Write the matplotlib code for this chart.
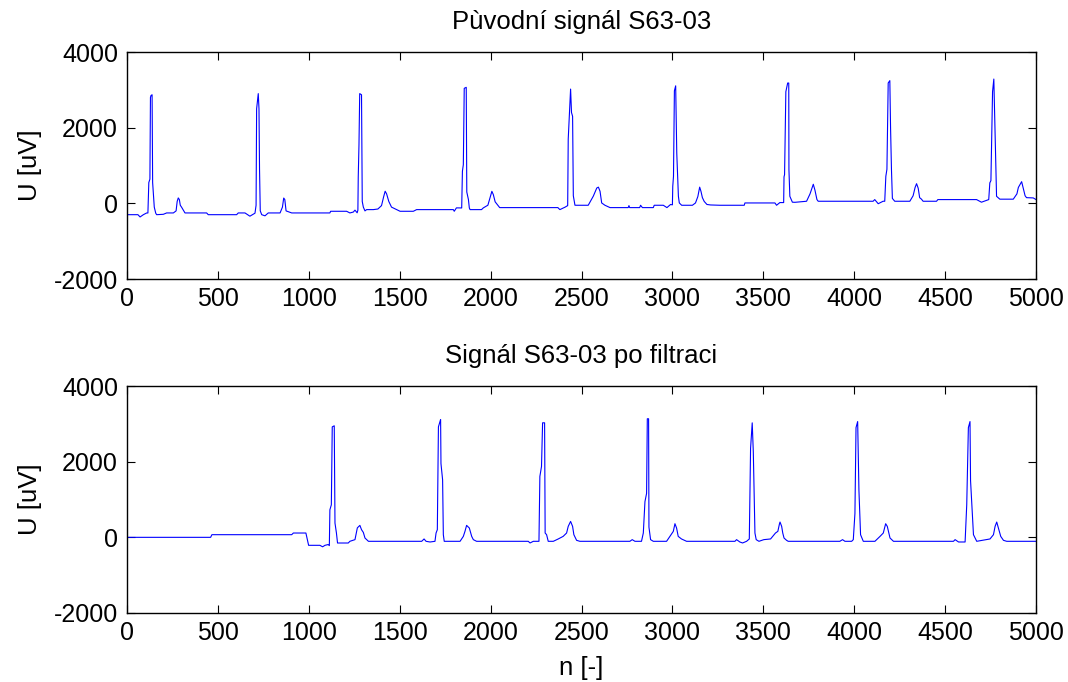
import matplotlib
matplotlib.use("Agg")
import matplotlib.pyplot as plt
import numpy as np

plt.rcParams['font.family'] = ['Liberation Sans', 'DejaVu Sans']
plt.rcParams['axes.unicode_minus'] = False

# ---- data ----
titles = ["Pùvodní signál S63-03", "Signál S63-03 po filtraci"]
ylabel = "U [uV]"
xlabel = "n [-]"
x_ticks = [0, 500, 1000, 1500, 2000, 2500, 3000, 3500, 4000, 4500, 5000]
y_ticks = [-2000, 0, 2000, 4000]

# original signal: (sample index, microvolts) vertices
orig_n = [0, 60, 72, 90, 108, 115, 120, 126, 129, 132, 138, 141, 150, 158, 163, 200, 218, 255,
          270, 276, 282, 288, 293, 300, 319, 438, 447, 603, 612, 649, 676, 700,
          704, 710, 713, 722, 726, 729, 733, 741, 759, 777, 842, 855, 862, 868, 875, 906,
          1116, 1120, 1208, 1226, 1245, 1254, 1266,
          1270, 1272, 1276, 1280, 1290, 1294, 1300, 1309, 1318, 1355, 1380, 1400, 1412, 1420,
          1428, 1440, 1455, 1483, 1502, 1575, 1593, 1795, 1800, 1812, 1838,
          1841, 1845, 1850, 1855, 1866, 1869, 1878, 1883, 1887, 1950, 1960, 1985, 2000, 2007,
          2015, 2025, 2040, 2050, 2370, 2381, 2410, 2424,
          2427, 2433, 2440, 2445, 2451, 2455, 2464, 2473, 2537, 2565, 2584, 2593, 2602, 2611,
          2629, 2657, 2757, 2761, 2765, 2820, 2825, 2835, 2895, 2900, 2950, 2970, 2990,
          3000, 3002, 3006, 3011, 3018, 3024, 3033, 3038, 3051, 3110, 3127, 3140, 3150, 3157,
          3165, 3175, 3190, 3210, 3261, 3395, 3399, 3564, 3573, 3591, 3612,
          3614, 3617, 3624, 3634, 3640, 3641, 3646, 3660, 3674, 3738, 3757, 3770, 3775, 3784,
          3795, 3802, 3811, 4104, 4113, 4132, 4159, 4168,
          4174, 4180, 4187, 4196, 4200, 4205, 4210, 4223, 4306, 4324, 4335, 4343, 4352, 4360,
          4370, 4379, 4453, 4460, 4673, 4700, 4740,
          4746, 4752, 4761, 4768, 4774, 4783, 4801, 4875, 4895, 4903, 4921, 4930, 4940, 4948,
          4985, 5000]
orig_u = [-300, -300, -360, -300, -255, -255, 550, 640, 2800, 2850, 2870, 550, -100, -260, -300, -290, -254, -254,
          -200, 50, 143, 100, -50, -100, -254, -254, -300, -300, -254, -254, -340, -270,
          -260, -50, 2500, 2900, 2500, 900, -200, -300, -330, -254, -254, -100, 140, 100, -200, -254,
          -254, -210, -210, -254, -230, -180, -250,
          -180, 700, 1550, 2900, 2870, 50, -100, -200, -166, -166, -150, -60, 180, 320,
          250, 50, -100, -166, -210, -210, -166, -166, -210, -120, -120,
          -122, 850, 1020, 3040, 3066, 300, 100, -122, -166, -166, -120, -50, 200, 318,
          230, 40, -50, -113, -113, -166, -100, -60,
          1700, 2300, 3020, 2400, 2300, 200, -50, -51, -51, 190, 405, 428, 318, 10,
          -51, -113, -113, -60, -113, -113, -51, -113, -113, -51, -51, -113, -30,
          -40, 450, 714, 2975, 3106, 1330, 186, 10, -51, -51, 10, 180, 428, 320,
          150, 50, -30, -43, -51, -51, 10, 10, -51, 20, 20,
          700, 760, 2950, 3180, 3180, 890, 186, 30, 27, 55, 250, 440, 504, 350,
          100, 55, 55, 55, 99, -10, 55, 55,
          714, 900, 3181, 3243, 2000, 890, 130, 55, 55, 200, 420, 520, 400, 150,
          110, 55, 55, 99, 99, 30, 99,
          541, 600, 2950, 3285, 2050, 186, 110, 110, 250, 420, 573, 400, 200, 150,
          143, 100]

# filtered signal: (sample index, microvolts) vertices
filt_n = [0, 460, 467, 906, 915, 984, 999, 1061, 1076, 1089, 1107, 1113,
          1116, 1124, 1129, 1140, 1144, 1152, 1158, 1217, 1226, 1254, 1267, 1281, 1290, 1300,
          1309, 1328, 1621, 1634, 1645, 1667, 1694,
          1700, 1707, 1713, 1718, 1725, 1727, 1736, 1740, 1745, 1777, 1832, 1850, 1859, 1868,
          1883, 1896, 1905, 1923, 2207, 2217, 2235, 2262,
          2266, 2271, 2280, 2286, 2297, 2300, 2308, 2317, 2345, 2372, 2399, 2418, 2427, 2440,
          2451, 2458, 2473, 2491, 2766, 2779, 2794, 2830,
          2840, 2849, 2858, 2862, 2869, 2871, 2880, 2895, 2968, 2986, 3005, 3014, 3023, 3032,
          3050, 3078, 3344, 3353, 3371, 3386, 3408, 3423,
          3430, 3439, 3445, 3454, 3461, 3476, 3503, 3540, 3567, 3580, 3589, 3592, 3601, 3607,
          3614, 3628, 3637, 3921, 3936, 3949, 3986, 3995,
          4004, 4010, 4019, 4026, 4035, 4050, 4114, 4142, 4160, 4173, 4182, 4197, 4216,
          4546, 4555, 4574, 4610,
          4619, 4628, 4637, 4640, 4656, 4674, 4747, 4766, 4775, 4784, 4793, 4806, 4821, 4839,
          5000]
filt_u = [0, 0, 70, 70, 114, 114, -211, -211, -250, -211, -190, -220,
          728, 860, 2920, 2948, 377, 114, -150, -150, -105, -61, 250, 316, 202, 130,
          -18, -105, -105, -43, -105, -123, -105,
          114, 202, 2920, 3000, 3115, 1950, 1520, 70, -105, -105, -105, 25, 158, 316,
          246, 25, -61, -105, -105, -149, -105, -105,
          -105, 1610, 1873, 3027, 3027, 114, 70, -105, -105, -43, 25, 114, 290, 421,
          290, 70, -79, -105, -105, -61, -105, -105,
          114, 943, 1162, 3134, 3134, 270, -61, -105, -105, 25, 158, 360, 246, 25,
          -43, -105, -105, -61, -123, -149, -105, -43,
          2352, 3026, 2265, 114, -61, -105, -61, -43, 114, 158, 358, 404, 290, 114,
          -18, -79, -105, -105, -61, -105, -105, -61,
          630, 2900, 3060, 1246, 70, -105, -105, 25, 114, 360, 290, -18, -105,
          -105, -61, -123, -123,
          860, 2900, 3060, 1500, 70, -105, -43, 70, 290, 404, 246, 25, -79, -105,
          -105]

signals = [(orig_n, orig_u), (filt_n, filt_u)]

# ---- figure ----
fig = plt.figure(figsize=(10.68, 6.82), dpi=100)
left, width, height = 127 / 1068, 909 / 1068, 227 / 682
bottoms = [1 - 279 / 682, 1 - 613 / 682]

for i, (sig_n, sig_u) in enumerate(signals):
    ax = fig.add_axes([left, bottoms[i], width, height])
    ax.plot(sig_n, sig_u, color=(0, 0, 1), linewidth=0.8)
    ax.set_xlim(0, 5000)
    ax.set_ylim(-2000, 4000)
    ax.set_xticks(x_ticks)
    ax.set_yticks(y_ticks)
    ax.tick_params(direction='in', length=6, width=0.8, top=True, right=True,
                   labelsize=18, pad=6.5, colors='black')
    ax.tick_params(axis='x', pad=5.5)
    for sp in ax.spines.values():
        sp.set_linewidth(1.0)
        sp.set_color('black')
    ax.set_title(titles[i], fontsize=18.5, pad=16.5)
    ax.set_ylabel(ylabel, fontsize=18.5)
    ax.yaxis.set_label_coords(-0.0935, 0.5)
    if i == 1:
        ax.set_xlabel(xlabel, fontsize=18.5)
        ax.xaxis.set_label_coords(0.5, -0.19)

fig.savefig("out.png", dpi=100)
